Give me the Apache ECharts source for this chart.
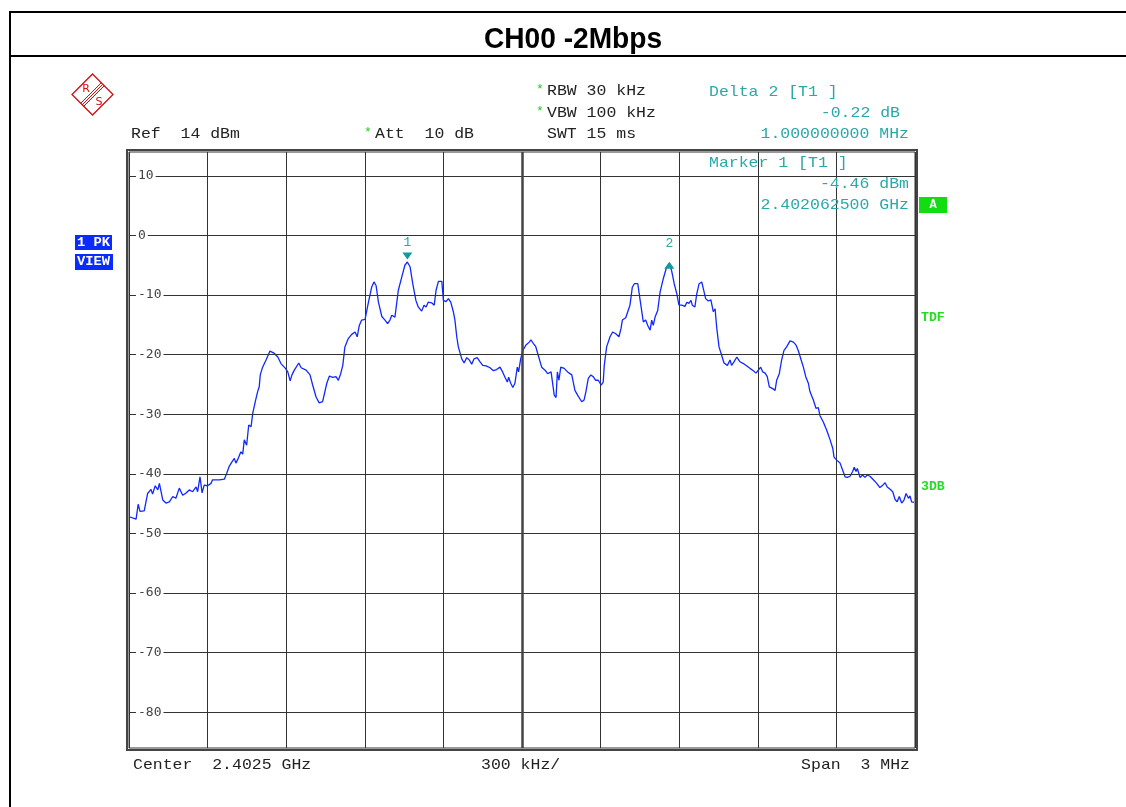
<!DOCTYPE html>
<html><head><meta charset="utf-8">
<script src="https://cdn.jsdelivr.net/npm/echarts@6/dist/echarts.min.js"></script>
<style>html,body{margin:0;padding:0;background:#fff;}#c{width:1126px;height:807px;}</style>
</head><body><div id="c"></div>
<script>
// ---- data ----
const CENTER_MHZ = 2402.5;
const SPAN_MHZ = 3;
const freqMHz = [
2401.001,2401.027,2401.035,2401.042,2401.058,2401.071,2401.084,2401.090,2401.100,2401.110,2401.116,2401.129,2401.141,2401.154,2401.167,2401.179,2401.192,2401.205,2401.218,2401.230,2401.243,2401.256,2401.262,2401.271,2401.279,2401.287,2401.300,2401.313,2401.319,2401.345,2401.364,2401.373,2401.383,2401.393,2401.402,2401.408,2401.417,2401.427,2401.434,2401.440,2401.449,2401.457,2401.466,2401.472,2401.482,2401.491,2401.497,2401.501,2401.510,2401.523,2401.538,2401.555,2401.568,2401.580,2401.597,2401.606,2401.615,2401.622,2401.631,2401.637,2401.648,2401.657,2401.676,2401.691,2401.701,2401.714,2401.726,2401.739,2401.755,2401.765,2401.778,2401.790,2401.799,2401.808,2401.816,2401.824,2401.837,2401.850,2401.863,2401.871,2401.879,2401.888,2401.901,2401.913,2401.926,2401.935,2401.943,2401.952,2401.965,2401.977,2401.987,2401.996,2402.003,2402.015,2402.028,2402.041,2402.053,2402.0625,2402.073,2402.083,2402.095,2402.104,2402.117,2402.126,2402.134,2402.142,2402.155,2402.165,2402.172,2402.181,2402.194,2402.200,2402.210,2402.219,2402.228,2402.238,2402.244,2402.251,2402.257,2402.270,2402.279,2402.289,2402.299,2402.308,2402.317,2402.329,2402.340,2402.350,2402.363,2402.378,2402.391,2402.403,2402.416,2402.426,2402.435,2402.444,2402.449,2402.457,2402.465,2402.473,2402.482,2402.487,2402.495,2402.503,2402.515,2402.528,2402.534,2402.543,2402.552,2402.562,2402.575,2402.588,2402.598,2402.611,2402.616,2402.623,2402.630,2402.635,2402.641,2402.648,2402.661,2402.674,2402.690,2402.696,2402.702,2402.715,2402.728,2402.737,2402.744,2402.753,2402.763,2402.772,2402.781,2402.791,2402.802,2402.810,2402.814,2402.823,2402.836,2402.846,2402.858,2402.870,2402.878,2402.883,2402.896,2402.903,2402.912,2402.921,2402.929,2402.942,2402.950,2402.963,2402.972,2402.980,2402.989,2402.995,2403.001,2403.008,2403.018,2403.027,2403.039,2403.052,2403.0625,2403.071,2403.081,2403.091,2403.099,2403.110,2403.122,2403.129,2403.137,2403.145,2403.150,2403.160,2403.167,2403.176,2403.186,2403.192,2403.201,2403.211,2403.221,2403.230,2403.237,2403.243,2403.252,2403.262,2403.271,2403.284,2403.294,2403.300,2403.309,2403.320,2403.332,2403.345,2403.358,2403.370,2403.383,2403.393,2403.402,2403.411,2403.419,2403.428,2403.436,2403.444,2403.457,2403.466,2403.472,2403.482,2403.491,2403.500,2403.510,2403.523,2403.536,2403.546,2403.555,2403.564,2403.574,2403.583,2403.593,2403.599,2403.612,2403.622,2403.631,2403.637,2403.650,2403.663,2403.676,2403.686,2403.691,2403.701,2403.714,2403.724,2403.733,2403.742,2403.752,2403.762,2403.768,2403.775,2403.780,2403.790,2403.800,2403.809,2403.818,2403.828,2403.835,2403.841,2403.854,2403.866,2403.877,2403.886,2403.894,2403.905,2403.915,2403.924,2403.932,2403.940,2403.949,2403.958,2403.966,2403.975,2403.981,2403.987,2403.996
];
const levelDbm = [
-47.2,-47.6,-45.1,-46.3,-46.2,-43.3,-42.6,-43.4,-42.0,-42.7,-41.6,-44.4,-44.9,-44.7,-43.8,-44.1,-42.4,-43.6,-43.2,-42.7,-43.0,-42.2,-43.0,-40.5,-43.2,-41.9,-42.0,-41.6,-41.0,-41.0,-40.9,-39.9,-38.7,-38.0,-37.4,-38.2,-37.4,-36.3,-36.7,-34.3,-35.2,-31.8,-32.1,-29.9,-27.9,-26.2,-25.4,-23.4,-22.1,-20.9,-19.4,-19.8,-20.4,-21.5,-22.3,-22.9,-24.4,-23.4,-22.6,-22.6,-21.4,-22.2,-22.6,-23.4,-25.1,-27.1,-28.1,-27.9,-24.8,-23.6,-23.8,-23.7,-24.3,-23.2,-21.8,-18.7,-17.3,-16.6,-16.2,-17.0,-15.1,-14.2,-14.1,-11.4,-8.7,-7.8,-8.4,-11.2,-13.6,-14.2,-14.8,-14.2,-13.4,-13.7,-9.2,-7.0,-5.0,-4.46,-5.3,-8.1,-10.9,-12.0,-12.7,-11.7,-12.0,-11.2,-11.3,-11.7,-9.2,-7.7,-7.7,-10.9,-11.1,-10.6,-11.2,-12.8,-14.2,-17.0,-18.7,-20.7,-21.4,-20.5,-20.9,-21.6,-20.7,-20.5,-21.2,-21.8,-21.9,-22.2,-22.7,-22.5,-22.1,-22.9,-23.8,-24.6,-23.8,-24.8,-25.5,-24.8,-22.1,-22.9,-20.7,-19.3,-18.4,-17.9,-17.5,-18.1,-18.6,-20.1,-22.1,-22.6,-23.2,-22.9,-23.2,-26.8,-27.2,-22.9,-24.3,-22.1,-22.3,-22.9,-23.4,-23.7,-26.0,-27.0,-27.9,-27.6,-26.2,-24.0,-23.4,-23.7,-24.3,-24.3,-25.1,-24.6,-21.8,-18.7,-17.0,-16.2,-16.5,-17.0,-15.6,-14.2,-13.8,-14.0,-11.7,-8.7,-8.1,-8.1,-10.6,-14.5,-14.2,-15.1,-15.9,-14.2,-15.1,-13.7,-12.6,-9.5,-7.3,-5.3,-4.68,-5.9,-8.1,-9.8,-11.7,-11.7,-11.9,-11.2,-11.4,-10.9,-11.7,-12.0,-9.8,-8.1,-7.8,-8.1,-10.6,-11.0,-10.8,-12.8,-12.3,-15.4,-18.7,-20.1,-21.4,-21.8,-20.9,-21.8,-21.2,-20.4,-21.2,-21.5,-21.9,-22.3,-22.7,-23.1,-22.6,-22.1,-22.9,-23.1,-23.7,-25.4,-25.7,-26.0,-24.3,-23.2,-20.9,-19.3,-18.7,-17.7,-17.9,-18.4,-19.4,-20.7,-22.1,-23.7,-24.8,-26.2,-27.6,-29.0,-28.9,-30.2,-31.3,-32.7,-34.3,-35.7,-37.2,-37.7,-38.2,-39.4,-40.5,-40.6,-40.4,-39.6,-38.9,-39.6,-39.1,-40.6,-40.2,-40.6,-40.2,-40.4,-40.1,-41.0,-41.6,-42.3,-41.9,-41.5,-42.2,-42.6,-43.0,-44.3,-44.7,-43.8,-44.9,-44.4,-43.3,-44.1,-43.7,-44.7,-44.8
];
const yTickValues = [10, 0, -10, -20, -30, -40, -50, -60, -70, -80];
const refLevel = 14;
const yBottom = -86;
const markerNames = ['1', '2'];
const markerFreqMHz = [2402.0625, 2403.0625];
const markerLevel = [-4.46, -4.68];
const titleText = 'CH00 -2Mbps';

// ---- build ----
const chart = echarts.init(document.getElementById('c'), null, {renderer: 'canvas'});
const trace = freqMHz.map((f, i) => [f - CENTER_MHZ, levelDbm[i]]);
const TEAL = '#2aa8a8';
const MONO = '"Liberation Mono", "DejaVu Sans Mono", monospace';
const SX = 1.1;

function txt(x, y, text, fill, align, opts) {
  opts = opts || {};
  return {
    type: 'text', x: x, y: y, scaleX: opts.scaleX || SX, z: 10,
    style: {
      text: text, fill: fill, align: align || 'left', verticalAlign: 'middle',
      font: (opts.weight || 'normal') + ' ' + (opts.size || 15) + 'px ' + (opts.family || MONO)
    }
  };
}

const graphics = [
  // page frame
  {type: 'line', shape: {x1: 10, y1: 12, x2: 1126, y2: 12}, style: {stroke: '#000', lineWidth: 2}},
  {type: 'line', shape: {x1: 10, y1: 56, x2: 1126, y2: 56}, style: {stroke: '#000', lineWidth: 2}},
  {type: 'line', shape: {x1: 10, y1: 11, x2: 10, y2: 807}, style: {stroke: '#000', lineWidth: 2}},
  {type: 'text', x: 573, y: 40, scaleX: 0.97, style: {text: titleText, align: 'center', verticalAlign: 'middle',
    font: 'bold 29px "Liberation Sans", Arial, sans-serif', fill: '#000'}},
  // plot outer frame
  {type: 'rect', shape: {x: 127, y: 150, width: 790, height: 600}, style: {fill: 'none', stroke: '#444', lineWidth: 2}, z: 5},
  // R&S logo
  {type: 'polygon', shape: {points: [[92.5, 74], [113, 94.5], [92.5, 115], [72, 94.5]]}, style: {fill: 'none', stroke: '#cc1111', lineWidth: 1.3}},
  {type: 'line', shape: {x1: 103, y1: 84, x2: 82, y2: 105}, style: {stroke: '#cc1111', lineWidth: 1}},
  {type: 'line', shape: {x1: 104.5, y1: 85.5, x2: 83.5, y2: 106.5}, style: {stroke: '#cc1111', lineWidth: 1}},
  {type: 'line', shape: {x1: 101.5, y1: 82.5, x2: 80.5, y2: 103.5}, style: {stroke: '#cc1111', lineWidth: 1}},
  {type: 'text', x: 86, y: 89, style: {text: 'R', fill: '#cc1111', align: 'center', verticalAlign: 'middle', font: '11px "DejaVu Sans", sans-serif'}},
  {type: 'text', x: 99, y: 102, style: {text: 'S', fill: '#cc1111', align: 'center', verticalAlign: 'middle', font: '11px "DejaVu Sans", sans-serif'}},
  // header texts
  txt(131, 134, 'Ref  14 dBm', '#222'),
  txt(364, 133, '*', '#22cc22', 'left', {scaleX: 1, size: 13}),
  txt(375, 134, 'Att  10 dB', '#222'),
  txt(536, 90, '*', '#22cc22', 'left', {scaleX: 1, size: 13}),
  txt(547, 91, 'RBW 30 kHz', '#222'),
  txt(536, 112, '*', '#22cc22', 'left', {scaleX: 1, size: 13}),
  txt(547, 113, 'VBW 100 kHz', '#222'),
  txt(547, 134, 'SWT 15 ms', '#222'),
  txt(709, 92, 'Delta 2 [T1 ]', TEAL),
  txt(900, 113, '-0.22 dB', TEAL, 'right'),
  txt(909, 134, '1.000000000 MHz', TEAL, 'right'),
  txt(709, 163, 'Marker 1 [T1 ]', TEAL),
  txt(909, 184, '-4.46 dBm', TEAL, 'right'),
  txt(909, 205, '2.402062500 GHz', TEAL, 'right'),
  // footer
  txt(133, 765, 'Center  2.4025 GHz', '#222'),
  txt(481, 765, '300 kHz/', '#222'),
  txt(910, 765, 'Span  3 MHz', '#222', 'right'),
  // left status boxes
  {type: 'rect', shape: {x: 75, y: 235, width: 37, height: 15}, style: {fill: '#0a2bff'}},
  {type: 'text', x: 77, y: 243, scaleX: 1.15, style: {text: '1 PK', fill: '#fff', verticalAlign: 'middle', font: 'bold 12px ' + MONO}},
  {type: 'rect', shape: {x: 75, y: 254, width: 38, height: 16}, style: {fill: '#0a2bff'}},
  {type: 'text', x: 77, y: 262, scaleX: 1.15, style: {text: 'VIEW', fill: '#fff', verticalAlign: 'middle', font: 'bold 12px ' + MONO}},
  // right side indicators
  {type: 'rect', shape: {x: 919, y: 197, width: 28, height: 16}, style: {fill: '#11dd11'}},
  {type: 'text', x: 933, y: 205, style: {text: 'A', fill: '#fff', align: 'center', verticalAlign: 'middle', font: 'bold 12px ' + MONO}},
  {type: 'text', x: 921, y: 318, scaleX: 1.1, style: {text: 'TDF', fill: '#22dd22', verticalAlign: 'middle', font: 'bold 12px ' + MONO}},
  {type: 'text', x: 921, y: 487, scaleX: 1.1, style: {text: '3DB', fill: '#22dd22', verticalAlign: 'middle', font: 'bold 12px ' + MONO}}
];

const markData = markerNames.map((n, i) => ({
  name: n,
  coord: [markerFreqMHz[i] - CENTER_MHZ, markerLevel[i]],
  symbol: 'triangle',
  symbolRotate: i === 0 ? 180 : 0,
  symbolSize: [10, 7],
  symbolOffset: i === 0 ? [0, -6] : [0, 2],
  label: {show: true, formatter: n, position: 'top', distance: i === 0 ? 3 : 12,
    color: TEAL, fontSize: 13, fontFamily: MONO}
}));

const halfSpan = SPAN_MHZ / 2;
chart.setOption({
  animation: false,
  backgroundColor: '#fff',
  grid: {left: 129, top: 152, width: 786, height: 596, show: true, borderColor: '#333', borderWidth: 1, backgroundColor: '#fff'},
  xAxis: {
    type: 'value', min: -halfSpan, max: halfSpan, interval: SPAN_MHZ / 10,
    axisLine: {show: false}, axisTick: {show: false}, axisLabel: {show: false},
    splitLine: {show: true, lineStyle: {color: '#333', width: 1}}
  },
  yAxis: {
    type: 'value', min: yBottom, max: refLevel, z: 6,
    axisLine: {show: false},
    axisTick: {show: false},
    splitLine: {show: false},
    axisLabel: {
      show: true, inside: true, customValues: yTickValues, margin: 7,
      color: '#444', fontSize: 13, fontFamily: '"DejaVu Sans Mono", monospace',
      backgroundColor: '#fff', padding: [0, 2, 0, 2]
    }
  },
  graphic: graphics,
  series: [
    {
      type: 'line', data: [], silent: true, z: 1,
      markLine: {
        silent: true, symbol: 'none', animation: false,
        label: {show: false},
        lineStyle: {color: '#333', width: 1, type: 'solid'},
        data: yTickValues.map(v => ({yAxis: v})).concat([{xAxis: 0, lineStyle: {color: '#444', width: 2.5}}])
      }
    },
    {
      type: 'line', data: trace, showSymbol: false, symbol: 'none', z: 3,
      lineStyle: {color: '#1028ff', width: 1.3},
      markPoint: {
        data: markData,
        itemStyle: {color: '#139a9a'}
      }
    }
  ]
});
</script>
</body></html>
